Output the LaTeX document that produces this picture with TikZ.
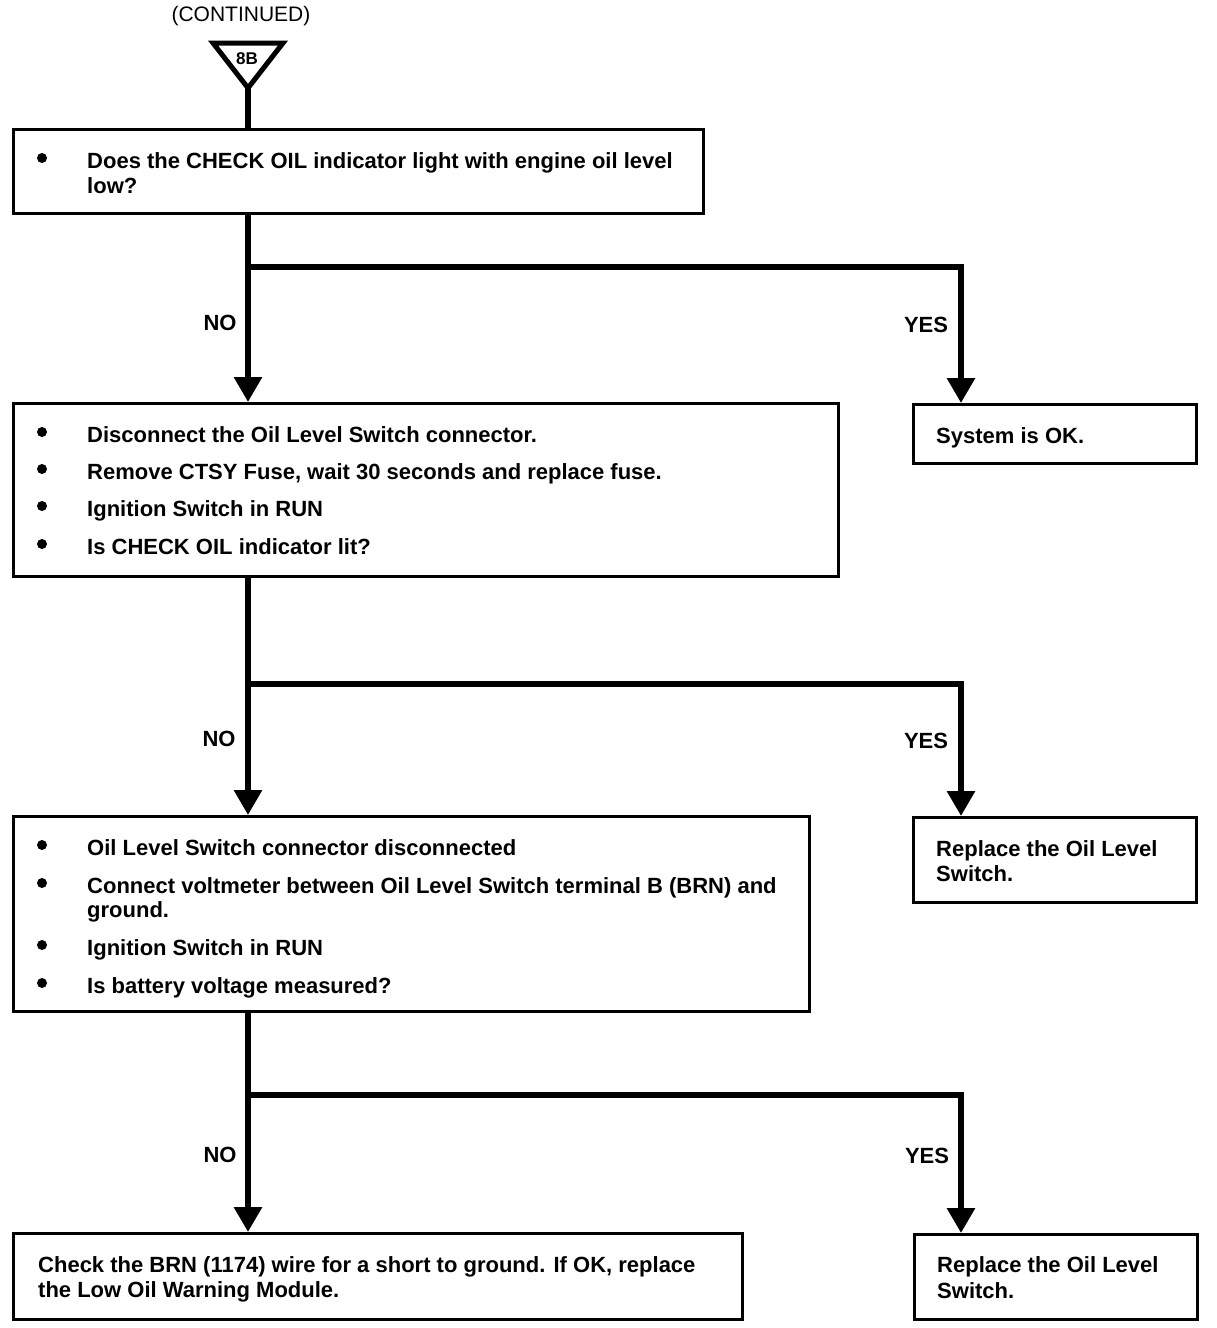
\documentclass[tikz,border=0pt]{standalone}
\usepackage{fontspec}
\setmainfont{Liberation Sans}
\usetikzlibrary{arrows.meta}
\begin{document}
\begin{tikzpicture}[x=1pt,y=-1pt,
  box/.style={draw,line width=3pt,inner sep=0pt,anchor=north west},
  flow/.style={line width=6pt,line join=miter},
  arr/.style={flow,-{Triangle[length=25pt,width=27pt]}},
  txt/.style={anchor=base west,inner sep=0pt,font=\fontsize{22}{25}\selectfont\bfseries},
  lbl/.style={inner sep=0pt,font=\fontsize{22}{25}\selectfont\bfseries},
  dot/.style={circle,fill,inner sep=0pt,minimum size=10pt}]
\useasboundingbox (0,0) rectangle (1216,1328);
% header
\node[inner sep=0pt,font=\fontsize{21}{24}\selectfont] (cont) at (241,16) {(CONTINUED)};
\draw[line width=5pt,line join=miter] (213,43) -- (283,43) -- (248,88) -- cycle;
\node[inner sep=0pt,font=\fontsize{17}{19}\selectfont\bfseries] (tb) at (247,59) {8B};
\coordinate (tri) at (248,88);
% boxes
\node[box,minimum width=690pt,minimum height=84pt] (b1) at (12,128) {};
\node[box,minimum width=825pt,minimum height=173pt] (b2) at (12,402) {};
\node[box,minimum width=283pt,minimum height=59pt] (r1) at (912,403) {};
\node[box,minimum width=796pt,minimum height=195pt] (b3) at (12,815) {};
\node[box,minimum width=283pt,minimum height=85pt] (r2) at (912,816) {};
\node[box,minimum width=729pt,minimum height=86pt] (b4) at (12,1232) {};
\node[box,minimum width=283pt,minimum height=85pt] (r3) at (913,1233) {};
% trunk coordinates
\coordinate (tx) at (248,0);
\coordinate (rx) at (961,0);
\coordinate (j1) at (248,267);
\coordinate (j2) at (248,684);
\coordinate (j3) at (248,1095);
% connectors
\draw[flow] (tri) -- (b1.north -| tx);
\draw[arr] (b1.south -| tx) -- (b2.north -| tx);
\draw[arr] (j1) -| (r1.north -| rx);
\draw[arr] (b2.south -| tx) -- (b3.north -| tx);
\draw[arr] (j2) -| (r2.north -| rx);
\draw[arr] (b3.south -| tx) -- (b4.north -| tx);
\draw[arr] (j3) -| (r3.north -| rx);
% labels
\node[lbl] (n1) at (220,323) {NO};
\node[lbl] (y1) at (926,325) {YES};
\node[lbl] (n2) at (219,739) {NO};
\node[lbl] (y2) at (926,741) {YES};
\node[lbl] (n3) at (220,1155) {NO};
\node[lbl] (y3) at (927,1156) {YES};
% box 1 text
\node[dot] (d11) at (42,158) {};
\node[txt] (t11) at (87,168) {Does the CHECK OIL indicator light with engine oil level};
\node[txt] (t12) at (87,193) {low?};
% box 2 text
\node[dot] (d21) at (42,432) {};
\node[txt] (t21) at (87,442) {Disconnect the Oil Level Switch connector.};
\node[dot] (d22) at (42,469) {};
\node[txt] (t22) at (87,479) {Remove CTSY Fuse, wait 30 seconds and replace fuse.};
\node[dot] (d23) at (42,506) {};
\node[txt] (t23) at (87,516) {Ignition Switch in RUN};
\node[dot] (d24) at (42,544) {};
\node[txt] (t24) at (87,554) {Is CHECK OIL indicator lit?};
% right box 1
\node[txt] (tr1) at (936,443) {System is OK.};
% box 3 text
\node[dot] (d31) at (42,845) {};
\node[txt] (t31) at (87,855) {Oil Level Switch connector disconnected};
\node[dot] (d32) at (42,883) {};
\node[txt] (t32) at (87,893) {Connect voltmeter between Oil Level Switch terminal B (BRN) and};
\node[txt] (t33) at (87,917) {ground.};
\node[dot] (d33) at (42,945) {};
\node[txt] (t34) at (87,955) {Ignition Switch in RUN};
\node[dot] (d34) at (42,983) {};
\node[txt] (t35) at (87,993) {Is battery voltage measured?};
% right box 2
\node[txt] (tr21) at (936,856) {Replace the Oil Level};
\node[txt] (tr22) at (936,881) {Switch.};
% box 4
\node[txt] (t41) at (38,1272) {Check the BRN (1174) wire for a short to ground. If OK, replace};
\node[txt] (t42) at (38,1297) {the Low Oil Warning Module.};
% right box 3
\node[txt] (tr31) at (937,1272) {Replace the Oil Level};
\node[txt] (tr32) at (937,1298) {Switch.};
\end{tikzpicture}
\end{document}
